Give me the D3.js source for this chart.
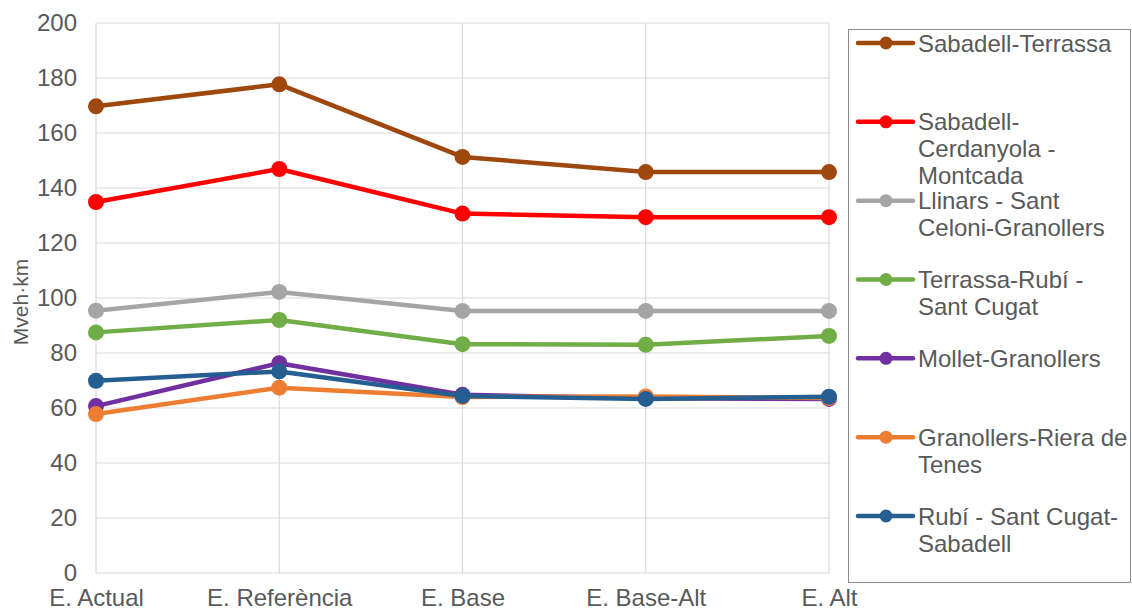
<!DOCTYPE html>
<html>
<head>
<meta charset="utf-8">
<script src="https://cdn.jsdelivr.net/npm/d3@7"></script>
<style>
  html, body { margin: 0; padding: 0; background: #fff; }
  svg { display: block; font-family: "Liberation Sans", Arial, sans-serif; }
</style>
</head>
<body>
<svg id="chart" width="1132" height="611"></svg>
<script>
// Scenarios on the x axis
const scenarios = ["E. Actual", "E. Referència", "E. Base", "E. Base-Alt", "E. Alt"];

// Corridor names (legend lines, wrapped as shown in the legend box)
const seriesNames = [
  ["Sabadell-Terrassa"],
  ["Sabadell-", "Cerdanyola -", "Montcada"],
  ["Llinars - Sant", "Celoni-Granollers"],
  ["Terrassa-Rubí -", "Sant Cugat"],
  ["Mollet-Granollers"],
  ["Granollers-Riera de", "Tenes"],
  ["Rubí - Sant Cugat-", "Sabadell"]
];

// Traffic volume per scenario (Mveh·km)
const sabadellTerrassa   = [169.7, 177.7, 151.3, 145.8, 145.8];
const sabadellCerdanyola = [134.9, 146.9, 130.7, 129.4, 129.4];
const llinarsGranollers  = [95.4, 102.2, 95.3, 95.3, 95.3];
const terrassaRubi       = [87.5, 92.0, 83.2, 83.0, 86.2];
const molletGranollers   = [60.7, 76.3, 64.8, 63.5, 63.3];
const granollersRiera    = [57.8, 67.4, 64.0, 64.2, 63.6];
const rubiSabadell       = [69.9, 73.3, 64.4, 63.3, 64.1];

const seriesValues = [sabadellTerrassa, sabadellCerdanyola, llinarsGranollers,
  terrassaRubi, molletGranollers, granollersRiera, rubiSabadell];

const seriesColors = ["#9E480E", "#FF0000", "#A5A5A5", "#70AD47", "#7030A0", "#ED7D31", "#255E91"];

const yTicks = [0, 20, 40, 60, 80, 100, 120, 140, 160, 180, 200];

const svg = d3.select("#chart");
const textColor = "#595959";
const fontSize = 24;

const x = d3.scalePoint().domain(scenarios).range([96, 829]).padding(0);
const y = d3.scaleLinear().domain([0, 200]).range([573, 23]);

// Gridlines
const grid = svg.append("g");
grid.selectAll("line.h").data(yTicks).join("line")
  .attr("x1", 96).attr("x2", 829)
  .attr("y1", d => y(d)).attr("y2", d => y(d))
  .attr("stroke", "#D9D9D9").attr("stroke-width", 1.2);
grid.selectAll("line.v").data(scenarios).join("line")
  .attr("x1", d => x(d)).attr("x2", d => x(d))
  .attr("y1", y(0)).attr("y2", y(200))
  .attr("stroke", "#D9D9D9").attr("stroke-width", 1.2);

// Y axis
const yAxis = svg.append("g")
  .attr("transform", "translate(77,0)")
  .call(d3.axisLeft(y).tickValues(yTicks).tickSize(0).tickPadding(0));
yAxis.select(".domain").remove();
yAxis.selectAll("text")
  .attr("fill", textColor).attr("font-size", fontSize)
  .attr("font-family", "'Liberation Sans', Arial, sans-serif");

// X axis
const xAxis = svg.append("g")
  .attr("transform", `translate(0,${y(0)})`)
  .call(d3.axisBottom(x).tickSize(0).tickPadding(16));
xAxis.select(".domain").remove();
xAxis.selectAll("text")
  .attr("fill", textColor).attr("font-size", fontSize)
  .attr("font-family", "'Liberation Sans', Arial, sans-serif");

// Y axis title
svg.append("text")
  .attr("transform", "translate(28,302) rotate(-90)")
  .attr("text-anchor", "middle")
  .attr("fill", textColor).attr("font-size", 21)
  .text("Mveh·km");

// Lines and markers
const line = d3.line().x((d, i) => x(scenarios[i])).y(d => y(d));
const series = svg.append("g").selectAll("g").data(seriesValues).join("g");
series.append("path")
  .attr("d", d => line(d))
  .attr("fill", "none")
  .attr("stroke", (d, i) => seriesColors[i])
  .attr("stroke-width", 4.5)
  .attr("stroke-linejoin", "round");
series.each(function(vals, si) {
  d3.select(this).selectAll("circle").data(vals).join("circle")
    .attr("cx", (d, i) => x(scenarios[i]))
    .attr("cy", d => y(d))
    .attr("r", 8)
    .attr("fill", seriesColors[si]);
});

// Legend
const legend = svg.append("g");
legend.append("rect")
  .attr("x", 848.5).attr("y", 29.5).attr("width", 282).attr("height", 553)
  .attr("fill", "#fff").attr("stroke", "#8C8C8C").attr("stroke-width", 1);

const legendY = d3.scaleLinear().domain([0, 6]).range([43, 516]);
const items = legend.selectAll("g.item").data(seriesNames).join("g")
  .attr("transform", (d, i) => `translate(0,${legendY(i)})`);
items.append("line")
  .attr("x1", 858).attr("x2", 913).attr("y1", 0).attr("y2", 0)
  .attr("stroke", (d, i) => seriesColors[i]).attr("stroke-width", 4.5)
  .attr("stroke-linecap", "round");
items.append("circle")
  .attr("cx", 886).attr("cy", 0).attr("r", 6.5)
  .attr("fill", (d, i) => seriesColors[i]);
items.append("text")
  .attr("x", 918).attr("y", 8.5)
  .attr("fill", textColor).attr("font-size", fontSize)
  .selectAll("tspan").data(d => d).join("tspan")
  .attr("x", 918).attr("dy", (d, i) => i === 0 ? 0 : 27)
  .text(d => d);
</script>
</body>
</html>
